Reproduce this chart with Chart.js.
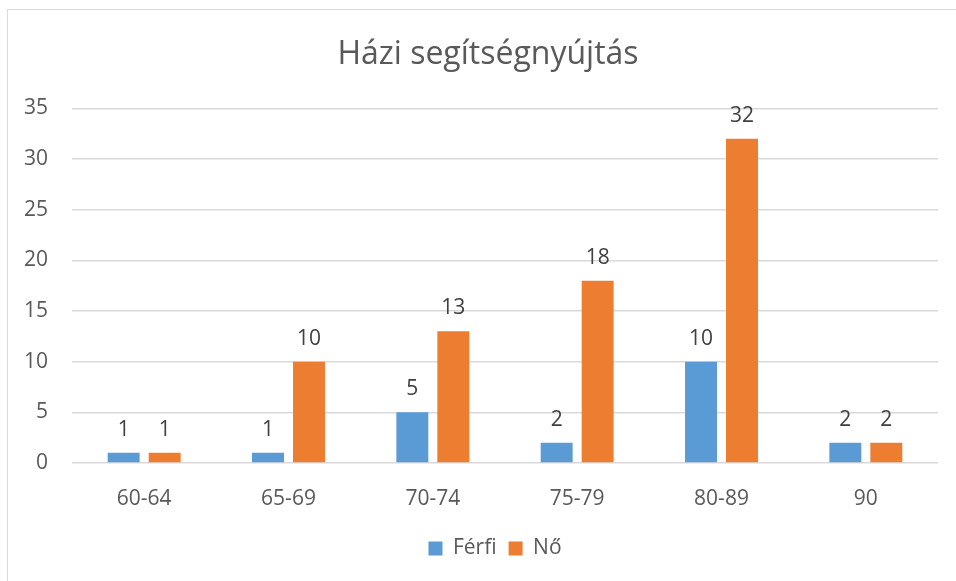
<!DOCTYPE html>
<html>
<head>
<meta charset="utf-8">
<script src="https://cdn.jsdelivr.net/npm/chart.js@4"></script>
<style>
  html, body { margin: 0; padding: 0; background: #ffffff; overflow: hidden; width: 956px; height: 581px; }
  #frame { position: absolute; left: 7px; top: 9px; width: 1000px; height: 1000px; border: 1px solid #d9d9d9; box-sizing: border-box; }
  #c { position: absolute; left: 0; top: 0; }
</style>
</head>
<body>
<div id="frame"></div>
<canvas id="c" width="956" height="581"></canvas>
<script>
const titleText = "Házi segítségnyújtás";
const categories = ["60-64", "65-69", "70-74", "75-79", "80-89", "90"];
const seriesNames = ["Férfi", "Nő"];
const ferfiValues = [1, 1, 5, 2, 10, 2];
const noValues = [1, 10, 13, 18, 32, 2];
const yMin = 0, yMax = 35, yStep = 5;

const FONT = "'Open Sans', 'DejaVu Sans', sans-serif";
const TXT = "#595959";

const dataLabels = {
  id: "dataLabels",
  afterDatasetsDraw(chart) {
    const ctx = chart.ctx;
    ctx.save();
    ctx.font = "21px " + FONT;
    ctx.fillStyle = "#404040";
    ctx.textAlign = "center";
    ctx.textBaseline = "middle";
    chart.data.datasets.forEach((ds, i) => {
      chart.getDatasetMeta(i).data.forEach((bar, j) => {
        ctx.fillText(String(ds.data[j]), bar.x, bar.y - 23);
      });
    });
    ctx.restore();
  }
};

const blockShift = {
  id: "blockShift",
  afterLayout(chart) {
    if (chart.legend) { chart.legend.left += 21; chart.legend.right += 21; }
    if (chart.titleBlock) { chart.titleBlock.left += 14; chart.titleBlock.right += 14; }
  }
};

new Chart(document.getElementById("c"), {
  type: "bar",
  data: {
    labels: categories,
    datasets: [
      { label: seriesNames[0], data: ferfiValues, backgroundColor: "#5B9BD5", categoryPercentage: 0.568, barPercentage: 0.78 },
      { label: seriesNames[1], data: noValues, backgroundColor: "#ED7D31", categoryPercentage: 0.568, barPercentage: 0.78 }
    ]
  },
  options: {
    responsive: false,
    animation: false,
    layout: { padding: { left: 10, right: 18, top: 0, bottom: 12 } },
    plugins: {
      title: {
        display: true,
        text: titleText,
        color: TXT,
        font: { family: FONT, size: 32, weight: "normal" },
        padding: { top: 36, bottom: 34 }
      },
      legend: {
        position: "bottom",
        labels: {
          color: TXT,
          font: { family: FONT, size: 21 },
          boxWidth: 14,
          boxHeight: 14,
          padding: 12
        }
      },
      tooltip: { enabled: false }
    },
    scales: {
      x: {
        grid: { display: false },
        border: { display: false },
        ticks: { color: TXT, font: { family: FONT, size: 21 }, padding: 15 },
        afterFit(scale) { scale.height = 63; }
      },
      y: {
        min: yMin,
        max: yMax,
        grid: { color: "#d9d9d9", lineWidth: 1.5, drawTicks: false },
        border: { display: false },
        ticks: { stepSize: yStep, color: TXT, font: { family: FONT, size: 21 }, padding: 24 },
        afterFit(scale) { scale.width = 62; }
      }
    }
  },
  plugins: [dataLabels, blockShift]
});
</script>
</body>
</html>
